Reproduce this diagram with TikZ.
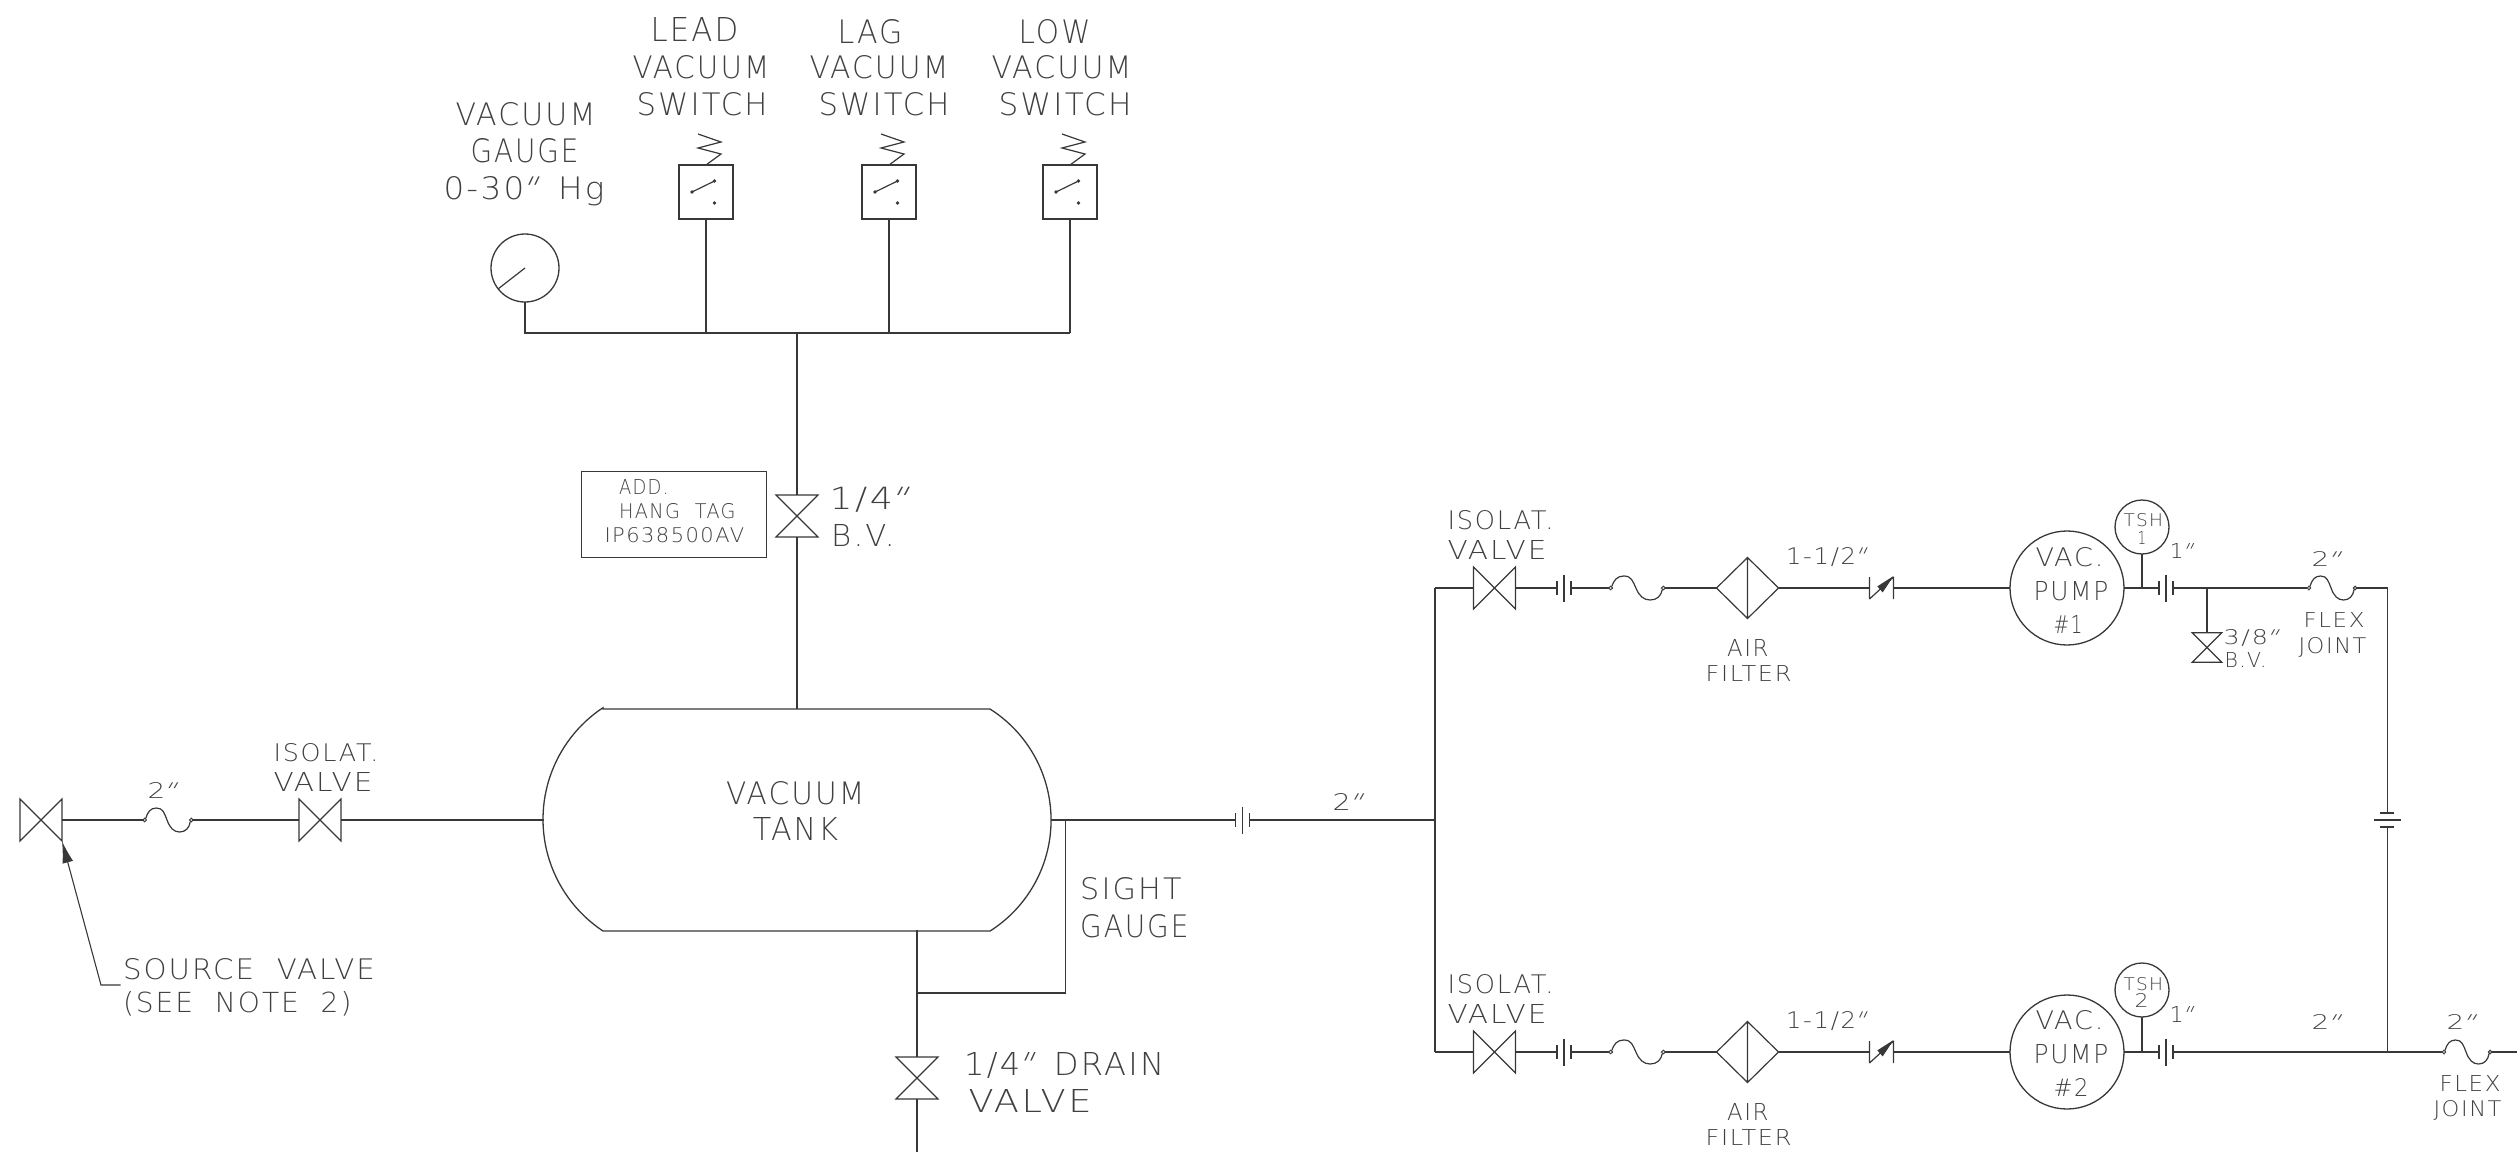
\documentclass[tikz,border=0pt]{standalone}
\usepackage{fontspec}
\usepackage{graphicx}
\setmainfont{DejaVu Sans ExtraLight}[LetterSpace=7,WordSpace=2]
\newfontfamily\slq{DejaVu Sans ExtraLight}[FakeSlant=0.45]
\newcommand\inch{{\kern-4pt\slq"}}
\usetikzlibrary{arrows.meta}
\definecolor{ink}{gray}{0.22}
\definecolor{txt}{gray}{0.25}
\newcommand\cad[6]{\node[cadtext,anchor=base west] (#1) at ({#2-1.5},#5) {\resizebox{\dimexpr#4pt-#2pt+3pt\relax}{\dimexpr#5pt-#3pt\relax}{#6}};}
\tikzset{
  pipe/.style={line width=1.4pt,draw=ink,line join=miter},
  cadtext/.style={inner sep=0pt,outer sep=0pt,text=txt,font=\fontsize{20}{24}\selectfont},
  hvalve/.pic={\draw[pipe,line width=1.2pt] (-21,-21)--(21,21)--(21,-21)--(-21,21)--cycle;
    \coordinate (-w) at (-21,0); \coordinate (-e) at (21,0);},
  vvalve/.pic={\draw[pipe,line width=1.2pt] (-21,-21)--(21,21)--(-21,21)--(21,-21)--cycle;
    \coordinate (-n) at (0,-21); \coordinate (-s) at (0,21);},
  flange/.pic={\draw[pipe,line width=1.2pt] (-7,-7)--(-7,7) (7,-7)--(7,7) (0,-13.5)--(0,13.5);
    \coordinate (-w) at (-7,0); \coordinate (-e) at (7,0);},
  vflange/.pic={\draw[pipe,line width=1.2pt] (-7,-7)--(7,-7) (-7,7)--(7,7) (-13.5,0)--(13.5,0);
    \coordinate (-n) at (0,-7); \coordinate (-s) at (0,7);},
  flexjoint/.pic={\draw[pipe,line width=1.2pt] (-23,-1.5) .. controls (-21,-8) and (-18,-12) .. (-12,-12)
      .. controls (-5,-12) and (-4,-7) .. (-1,0) .. controls (2,8) and (6,12) .. (12,12)
      .. controls (18,12) and (22,8) .. (23,1.5);
    \draw[pipe,line width=1pt] (-24,0) circle[radius=1.8] (24,0) circle[radius=1.8];
    \coordinate (-w) at (-25.8,0); \coordinate (-e) at (25.8,0);},
  airfilter/.pic={\draw[pipe,line width=1.2pt] (-31,0)--(0,-30.5)--(31,0)--(0,30.5)--cycle (0,-30.5)--(0,30.5);
    \coordinate (-w) at (-31,0); \coordinate (-e) at (31,0);},
  checkv/.pic={\draw[pipe,line width=1.2pt] (-12,-11)--(-12,11) (-12,11)--(12,-11) (12,-11)--(12,11);
    \fill[ink] (-4.2,-1.6)--(1.2,4.4)--(12,-12)--cycle;
    \coordinate (-w) at (-12,0); \coordinate (-e) at (12,0);},
  psswitch/.pic={\draw[pipe,line width=1.2pt] (0,-27)--(15,-38)--(-8,-44)--(15,-50)--(-8,-58);
    \draw[pipe,line width=1.2pt] (-14,0)--(8.5,-11);
    \fill[ink] (-14,0) circle[radius=1.8] (8.5,-11) circle[radius=1.8] (8.5,11) circle[radius=1.8];},
  boxed/.style={draw=ink,line width=1.3pt,inner sep=0pt,outer sep=0pt},
}
\begin{document}
\begin{tikzpicture}[x=1pt,y=-1pt]
\useasboundingbox (0,0) rectangle (2517,1154);

% vacuum header and instruments
\node[boxed,circle,minimum size=68pt] (gauge) at (525,268) {};
\draw[pipe,line width=1.2pt] (525,268)--(498,289);
\foreach \n/\cx in {sa/706,sb/889,sc/1070}{
  \node[boxed,minimum width=54pt,minimum height=54pt] (\n) at (\cx,192) {};
  \pic at (\cx,192) {psswitch};
  \coordinate (\n j) at (\cx,333);
  \draw[pipe] (\n.south) -- (\n j);
}
\coordinate (gj) at (525,333);
\coordinate (tj) at (797,333);
\draw[pipe] (gauge.south) -- (gj) -- (scj);
\pic (bv) at (797,516) {vvalve};
\draw[pipe] (tj) -- (bv-n);
\node[boxed,minimum width=185pt,minimum height=85.6pt] (tag) at (674.2,514.5) {};

% tank
\coordinate (tl) at (603,709); \coordinate (tr) at (990,709);
\coordinate (bl) at (603,931); \coordinate (br) at (990,931);
\draw[pipe,line width=1.3pt] (tl) -- (tr) arc[start angle=-57.6,end angle=57.6,radius=131.5] -- (bl)
   arc[start angle=123.5,end angle=236.5,radius=133.9] -- cycle;
\coordinate (ttop) at (797,709);
\draw[pipe] (bv-s) -- (ttop);

% source side
\pic (sv) at (41,820) {hvalve};
\pic[xscale=.97] (fx0) at (168,820) {flexjoint};
\pic (iv0) at (320,820) {hvalve};
\coordinate (tw) at (544,820);
\draw[pipe] (sv-e) -- (fx0-w) (fx0-e) -- (iv0-w) (iv0-e) -- (tw);
\coordinate (lead1) at (120.5,985); \coordinate (lead2) at (101,985); \coordinate (leadtip) at (62,841);
\draw[pipe,line width=1.1pt,-{Latex[length=22pt,width=11pt]}] (lead1) -- (lead2) -- (leadtip);

% tank outlet, sight gauge, drain
\coordinate (te) at (1051,820);
\pic (fm) at (1242.5,820) {flange};
\coordinate (mj) at (1435,820);
\coordinate (sgt) at (1065.7,820); \coordinate (sgc) at (1065.7,993); \coordinate (dj) at (917,993);
\coordinate (tbot) at (917,930);
\pic (dv) at (917,1078) {vvalve};
\coordinate (dend) at (917,1152);
\draw[pipe] (te) -- (fm-w) (fm-e) -- (mj);
\draw[pipe] (sgt) -- (sgc) -- (dj);
\draw[pipe] (tbot) -- (dv-n) (dv-s) -- (dend);

% two pump trains
\coordinate (m1) at (1435,588); \coordinate (m2) at (1435,1052);
\draw[pipe] (m1) -- (m2);
\foreach \r/\yy in {a/588,b/1052}{
  \pic (iv\r) at (1494.5,\yy) {hvalve};
  \pic (fa\r) at (1564,\yy) {flange};
  \pic[xscale=1.1] (fb\r) at (1637,\yy) {flexjoint};
  \pic (af\r) at (1747.5,\yy) {airfilter};
  \pic (cv\r) at (1881.5,\yy) {checkv};
  \node[boxed,circle,minimum size=114pt] (pump\r) at (2067,\yy) {};
  \pic (fc\r) at (2166,\yy) {flange};
  \coordinate (mm\r) at (1435,\yy);
  \coordinate (tj\r) at (2142,\yy);
  \draw[pipe] (mm\r) -- (iv\r-w) (iv\r-e) -- (fa\r-w) (fa\r-e) -- (fb\r-w) (fb\r-e) -- (af\r-w)
     (af\r-e) -- (cv\r-w) (cv\r-e) -- (pump\r.west) (pump\r.east) -- (fc\r-w);
}
\node[boxed,circle,minimum size=54pt] (tsha) at (2142,527) {};
\node[boxed,circle,minimum size=54pt] (tshb) at (2142,990) {};
\draw[pipe] (tsha.south) -- (tja) (tshb.south) -- (tjb);

% upper outlet
\coordinate (tv) at (2207,588);
\pic[scale=.7] (sbv) at (2207,647.5) {vvalve};
\pic[xscale=.96] (fd) at (2332,588) {flexjoint};
\coordinate (cor) at (2387.3,588);
\pic (fv) at (2387.3,820) {vflange};
\coordinate (rj) at (2387.3,1052);
\pic[xscale=.96] (fe) at (2467,1052) {flexjoint};
\coordinate (rend) at (2517,1052);
\draw[pipe] (fca-e) -- (fd-w) (fd-e) -- (cor) -- (fv-n) (fv-s) -- (rj);
\draw[pipe] (tv) -- (sbv-n);
\draw[pipe] (fcb-e) -- (fe-w) (fe-e) -- (rend);

% labels
\cad{l1}{457}{102}{594}{125}{VACUUM}
\cad{l2}{472}{138}{577}{162}{GAUGE}
\cad{l3}{445}{176}{603}{199}{0-30\inch{} Hg}
\cad{l4}{652}{17}{737}{41}{LEAD}
\cad{l5}{634}{55}{768}{78}{VACUUM}
\cad{l6}{638}{92}{766}{115}{SWITCH}
\cad{l7}{839}{19}{901}{43}{LAG}
\cad{l8}{811}{55}{947}{78}{VACUUM}
\cad{l9}{820}{92}{948}{115}{SWITCH}
\cad{l10}{1020}{19}{1089}{43}{LOW}
\cad{l11}{993}{55}{1130}{78}{VACUUM}
\cad{l12}{1000}{92}{1130}{115}{SWITCH}
\cad{l13}{620.7}{479}{667}{494}{ADD.}
\cad{l14}{620.7}{503}{734}{518}{HANG TAG}
\cad{l15}{606}{527}{742.7}{542}{IP638500AV}
\cad{l16}{831}{486.7}{900.7}{509}{1/4\inch}
\cad{l17}{832.7}{524}{893}{546}{B.V.}
\cad{l18}{275}{743}{377}{761}{ISOLAT.}
\cad{l19}{275}{772}{371}{791}{VALVE}
\cad{l20}{149}{782}{171}{798}{2\inch}
\cad{l21}{124.5}{958}{373.5}{979}{SOURCE VALVE}
\cad{l22}{124.5}{991}{350}{1012}{(SEE NOTE 2)}
\cad{l23}{727.7}{781}{863}{804}{VACUUM}
\cad{l24}{754.3}{817.7}{836.7}{840.7}{TANK}
\cad{l25}{1081.7}{877}{1180}{899}{SIGHT}
\cad{l26}{1081.7}{914}{1187}{937}{GAUGE}
\cad{l27}{965.7}{1052}{1162.7}{1075}{1/4\inch{} DRAIN}
\cad{l28}{970}{1089}{1090}{1112}{VALVE}
\cad{l29}{1334}{793}{1356.7}{810}{2\inch}
\cad{l30}{1449}{510}{1552}{529}{ISOLAT.}
\cad{l31}{1449}{540}{1545}{559}{VALVE}
\cad{l32}{1787.5}{547}{1861}{564}{1-1/2\inch}
\cad{l33}{1728.6}{639}{1767}{656}{AIR}
\cad{l34}{1707}{665}{1790}{681}{FILTER}
\cad{l35}{1449}{974}{1552}{993}{ISOLAT.}
\cad{l36}{1449}{1004}{1545}{1023}{VALVE}
\cad{l37}{1787.5}{1011}{1861}{1028}{1-1/2\inch}
\cad{l38}{1728.6}{1103}{1767}{1120}{AIR}
\cad{l39}{1707}{1129}{1790}{1145}{FILTER}
\cad{l40}{2037}{547}{2102}{566}{VAC.}
\cad{l41}{2035}{581}{2107}{600}{PUMP}
\cad{l42}{2055}{615}{2081}{633}{\#1}
\cad{l43}{2037}{1010}{2102}{1029}{VAC.}
\cad{l44}{2035}{1044}{2107}{1063}{PUMP}
\cad{l45}{2055}{1078}{2087}{1096}{\#2}
\cad{l46}{2125}{513}{2161.6}{526}{TSH}
\cad{l47}{2139}{531}{2144.6}{544}{1}
\cad{l48}{2125}{977}{2161.6}{990}{TSH}
\cad{l49}{2136}{993}{2147}{1007}{2}
\cad{l50}{2171}{543}{2188}{558}{1\inch}
\cad{l51}{2171}{1006}{2188}{1022}{1\inch}
\cad{l52}{2313}{551}{2335}{566}{2\inch}
\cad{l53}{2313}{1014}{2335}{1029}{2\inch}
\cad{l54}{2448}{1014}{2470}{1029}{2\inch}
\cad{l55}{2305}{612}{2363}{627}{FLEX}
\cad{l56}{2300}{637}{2365}{653}{JOINT}
\cad{l57}{2441}{1075}{2499}{1091}{FLEX}
\cad{l58}{2435}{1100}{2500}{1116}{JOINT}
\cad{l59}{2225}{629}{2273}{644}{3/8\inch}
\cad{l60}{2226}{652}{2265}{667}{B.V.}
\end{tikzpicture}
\end{document}
